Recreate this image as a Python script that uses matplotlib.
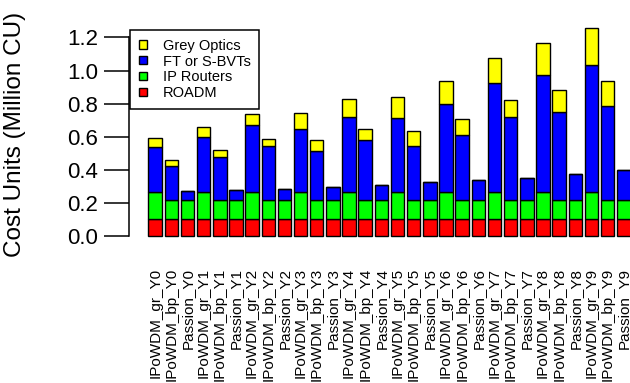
import matplotlib
matplotlib.use("Agg")
import matplotlib.pyplot as plt
import numpy as np

categories = []
for y in range(10):
    categories += [f"IPoWDM_gr_Y{y}", f"IPoWDM_bp_Y{y}", f"Passion_Y{y}"]

roadm = [0.10] * 30
ip_routers = [0.165, 0.118, 0.118] * 10
# cumulative tops
blue_top = [0.536, 0.425, 0.270, 0.600, 0.479, 0.278, 0.669, 0.546, 0.284,
            0.645, 0.512, 0.298, 0.721, 0.580, 0.308, 0.711, 0.544, 0.324,
            0.796, 0.610, 0.336, 0.924, 0.719, 0.352, 0.975, 0.751, 0.375,
            1.031, 0.784, 0.399]
total_top = [0.594, 0.461, 0.270, 0.660, 0.518, 0.278, 0.737, 0.588, 0.284,
             0.741, 0.578, 0.298, 0.826, 0.647, 0.308, 0.842, 0.636, 0.324,
             0.939, 0.709, 0.336, 1.076, 0.822, 0.352, 1.164, 0.882, 0.375,
             1.257, 0.939, 0.399]

roadm = np.array(roadm)
ip_routers = np.array(ip_routers)
ft = np.array(blue_top) - roadm - ip_routers
grey = np.array(total_top) - np.array(blue_top)

series = [("ROADM", roadm, "#FF0000"),
          ("IP Routers", ip_routers, "#00FF00"),
          ("FT or S-BVTs", ft, "#0000FF"),
          ("Grey Optics", grey, "#FFFF00")]

plt.rcParams['font.family'] = ['Liberation Sans', 'DejaVu Sans']

W, H = 630, 383
fig = plt.figure(figsize=(W / 100, H / 100), dpi=100)
ax = fig.add_axes([129 / W, (H - 244.3) / H, 523.6 / W, 224.6 / H])

x = 0.7 + 1.2 * np.arange(len(categories))
bottom = np.zeros(len(categories))
handles = []
for name, vals, col in series:
    b = ax.bar(x, vals, width=1.0, bottom=bottom, color=col,
               edgecolor="black", linewidth=1.0, label=name)
    handles.append(b)
    bottom = bottom + vals

ax.set_xlim(-1.24, 37.64)
ax.set_ylim(-0.0503, 1.307)

for s in ["top", "right", "bottom"]:
    ax.spines[s].set_visible(False)
ax.spines["left"].set_bounds(0, 1.2)
ax.spines["left"].set_linewidth(1.1)

ax.set_yticks([0, 0.2, 0.4, 0.6, 0.8, 1.0, 1.2])
ax.set_yticklabels(["0.0", "0.2", "0.4", "0.6", "0.8", "1.0", "1.2"])
ax.tick_params(axis="y", length=18, width=1.1, pad=4.3, labelsize=16)

ax.set_xticks(x)
ax.set_xticklabels(categories, rotation=90, fontsize=11)
ax.tick_params(axis="x", length=0, pad=17)

fig.text(15 / W, 1 - 134 / H, "Cost Units (Million CU)", rotation=90,
         ha="center", va="center", fontsize=17.5)

leg = ax.legend(handles[::-1], [s[0] for s in series][::-1],
                loc="upper left", bbox_to_anchor=(130 / W, 1 - 30 / H),
                bbox_transform=fig.transFigure, borderaxespad=0,
                fontsize=10.5, fancybox=False, framealpha=1,
                edgecolor="black", handlelength=0.55, handleheight=0.5,
                handletextpad=1.1, labelspacing=0.12, borderpad=0.6)
leg.get_frame().set_linewidth(1.1)

fig.savefig("out.png", dpi=100)
